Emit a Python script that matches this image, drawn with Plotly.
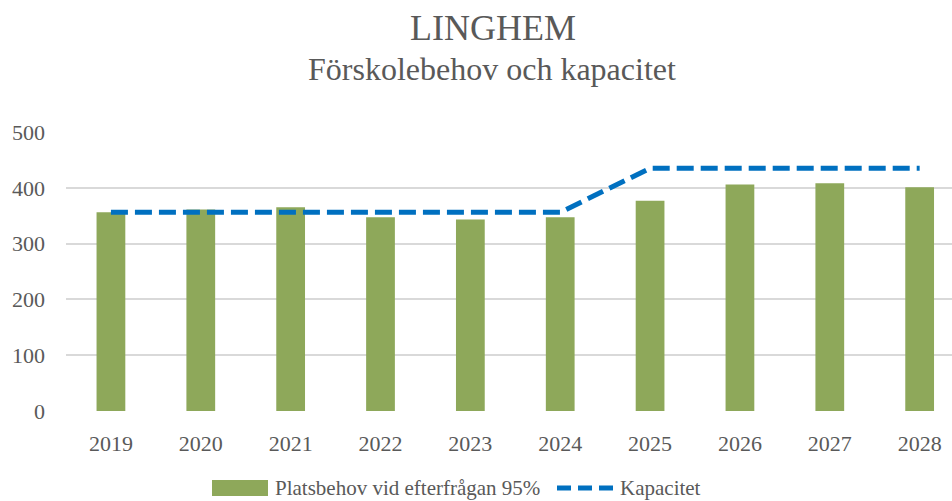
import plotly.graph_objects as go

years = ["2019", "2020", "2021", "2022", "2023", "2024", "2025", "2026", "2027", "2028"]
platsbehov = [356, 361, 365, 347, 343, 347, 377, 406, 408, 401]
kapacitet = [356, 356, 356, 356, 356, 356, 435, 435, 435, 435]
y_ticks = [0, 100, 200, 300, 400, 500]

W, H = 952, 501
L, R, T, B = 66, 0, 132, 90
FONT = "Liberation Serif, Times New Roman, serif"
TXT = "#595959"
GREEN = "#8EA85A"
BLUE = "#0070C0"

fig = go.Figure()
fig.add_trace(go.Bar(x=years, y=platsbehov, name="Platsbehov vid efterfrågan 95%",
                     marker=dict(color=GREEN, line=dict(width=0)), width=0.32,
                     showlegend=False))
fig.add_trace(go.Scatter(x=years, y=kapacitet, name="Kapacitet", mode="lines",
                         line=dict(color=BLUE, width=5, dash="17px,7px"),
                         showlegend=False))

pw = W - L - R
ph = H - T - B
def px_x(p):
    return (p - L) / pw
def px_y(p):
    return (H - B - p) / ph

# custom legend
LEG_Y = 488
fig.add_shape(type="rect", xref="paper", yref="paper",
              x0=px_x(212), x1=px_x(268), y0=px_y(LEG_Y + 8), y1=px_y(LEG_Y - 8),
              fillcolor=GREEN, line=dict(width=0))
fig.add_annotation(xref="paper", yref="paper", x=px_x(273), y=px_y(LEG_Y),
                   xanchor="left", yanchor="middle", showarrow=False,
                   text="Platsbehov vid efterfrågan 95%",
                   font=dict(family=FONT, size=21, color=TXT))
fig.add_shape(type="line", xref="paper", yref="paper",
              x0=px_x(557), x1=px_x(613), y0=px_y(LEG_Y), y1=px_y(LEG_Y),
              line=dict(color=BLUE, width=5, dash="14px,7px"))
fig.add_annotation(xref="paper", yref="paper", x=px_x(618), y=px_y(LEG_Y),
                   xanchor="left", yanchor="middle", showarrow=False,
                   text="Kapacitet",
                   font=dict(family=FONT, size=21, color=TXT))

# titles
fig.add_annotation(xref="paper", yref="paper", x=px_x(493), y=px_y(28),
                   xanchor="center", yanchor="middle", showarrow=False,
                   text="LINGHEM", font=dict(family=FONT, size=36, color=TXT))
fig.add_annotation(xref="paper", yref="paper", x=px_x(492), y=px_y(69),
                   xanchor="center", yanchor="middle", showarrow=False,
                   text="Förskolebehov och kapacitet",
                   font=dict(family=FONT, size=32, color=TXT))

fig.update_layout(
    width=W, height=H,
    margin=dict(l=L, r=R, t=T, b=B, pad=0),
    paper_bgcolor="white", plot_bgcolor="white",
    font=dict(family=FONT, size=22, color=TXT),
    showlegend=False,
    xaxis=dict(type="category", range=[-0.5, 9.36], showgrid=False,
               showline=False, ticks="", tickfont=dict(family=FONT, size=22, color=TXT),
               ticklabelstandoff=17, fixedrange=True),
    yaxis=dict(range=[0, 500], tickvals=y_ticks, showgrid=True, gridcolor="#D9D9D9",
               gridwidth=1.5, zeroline=False, showline=False, ticks="",
               tickfont=dict(family=FONT, size=22, color=TXT),
               ticklabelstandoff=20, fixedrange=True),
)

fig.write_html("out.html", config={"displayModeBar": False},
               post_script="document.body.style.margin='0';document.body.style.overflow='hidden';")
